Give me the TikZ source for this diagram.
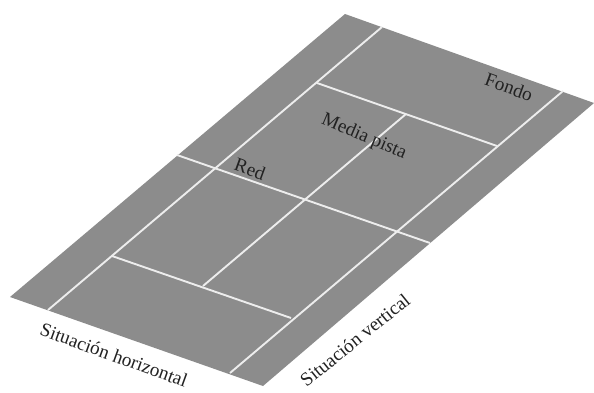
\documentclass[tikz,border=0pt]{standalone}
\usepackage{fontspec}
\setmainfont{Liberation Serif}
\definecolor{court}{HTML}{8C8C8C}
\definecolor{courtline}{HTML}{EDEDED}
\definecolor{ink}{HTML}{222222}
\tikzset{
  surface/.style={fill=court,draw=none},
  courtstroke/.style={draw=courtline,line width=1.9pt,line cap=butt},
  tag/.style={font=\fontsize{19.2}{21}\selectfont,text=ink,inner sep=0pt}
}
\begin{document}
\begin{tikzpicture}[x=1pt,y=-1pt]
\useasboundingbox (0,0) rectangle (594,392);
\fill[white] (0,0) rectangle (594,392);
\coordinate (T) at (345,14);
\coordinate (R) at (594,103);
\coordinate (B) at (263,386);
\coordinate (L) at (10,297);
\fill[surface] (T) -- (R) -- (B) -- (L) -- cycle;
\coordinate (sl1) at (48,310);
\coordinate (sl2) at (382,27);
\coordinate (sr1) at (230,373);
\coordinate (sr2) at (563,91);
\coordinate (st1) at (317,83);
\coordinate (st2) at (497,146);
\coordinate (sb1) at (112,256);
\coordinate (sb2) at (291,318);
\coordinate (c1) at (203,286);
\coordinate (c2) at (406,114);
\coordinate (n1) at (177,155);
\coordinate (n2) at (430,243);
\draw[courtstroke] (sl1) -- (sl2);
\draw[courtstroke] (sr1) -- (sr2);
\draw[courtstroke] (st1) -- (st2);
\draw[courtstroke] (sb1) -- (sb2);
\draw[courtstroke] (c1) -- (c2);
\draw[courtstroke] (n1) -- (n2);
\node[tag,rotate=-20] (fondo) at (509,87) {Fondo};
\node[tag,rotate=-23] (media) at (364,137) {Media pista};
\node[tag,rotate=-20] (red) at (250,169) {Red};
\node[tag,rotate=-20] (horiz) at (114,355) {Situación horizontal};
\node[tag,rotate=39] (vert) at (355,340) {Situación vertical};
\end{tikzpicture}
\end{document}
